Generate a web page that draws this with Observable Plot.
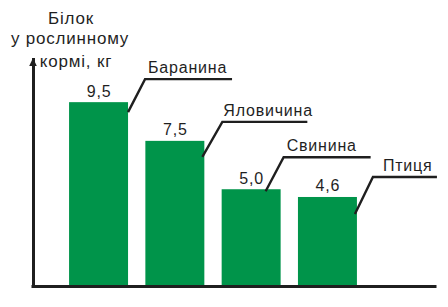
<!DOCTYPE html>
<html><head><meta charset="utf-8">
<script src="https://cdn.jsdelivr.net/npm/d3@7"></script>
<script src="https://cdn.jsdelivr.net/npm/@observablehq/plot@0.6"></script>
<style>
html,body{margin:0;padding:0;background:#fff;}
#chart svg text{letter-spacing:0.8px;}
</style></head><body><div id="chart"></div>
<script>
// ---- data ----
const categories = ["Баранина", "Яловичина", "Свинина", "Птиця"];
const values = [9.5, 7.5, 5.0, 4.6];
const valueLabels = ["9,5", "7,5", "5,0", "4,6"];
const titleLines = ["Білок", "у рослинному", "кормі, кг"];
const yMax = 11.73;

const rows = categories.map((c, i) => ({cat: c, value: values[i], label: valueLabels[i]}));

// ---- styling / layout ----
const ink = "#1f1f1f";
const green = "#00944a";
const font = '"Liberation Sans", Arial, sans-serif';
// leader offsets (px) relative to each bar's top-right corner
const leaderLayout = [
  {bx: 0, by: 10, ux: 17, uy: -33, len: 87, tx: 3},
  {bx: -2, by: 16, ux: 20, uy: -35, len: 85, tx: 1},
  {bx: -15, by: 2, ux: 18, uy: -34, len: 87, tx: 3},
  {bx: -2, by: 17, ux: 18, uy: -37, len: 64, tx: 10}
];
// title line offsets (px) from the top of the y axis
const titleLayout = [{dx: 37.5, dy: -48}, {dx: 36.5, dy: -27.5}, {dx: 42.5, dy: -5}];

function leaders(index, scales) {
  const {x, y} = scales;
  const bw = typeof x.bandwidth === "function" ? x.bandwidth() : x.bandwidth;
  const g = d3.create("svg:g").attr("text-anchor", "start");
  // y axis arrowhead at the top of the value range
  const xa = x.range ? Math.min(...x.range()) : 33;
  const ya = y(yMax);
  g.append("path")
    .attr("d", `M${xa},${ya - 1}L${xa + 3.8},${ya + 7}L${xa - 3.8},${ya + 7}Z`)
    .attr("fill", ink);
  rows.forEach((d, i) => {
    const L = leaderLayout[i];
    const xr = x(d.cat) + bw;
    const yt = y(d.value);
    const x0 = xr + L.bx, y0 = yt + L.by;
    const x1 = x0 + L.ux, y1 = y0 + L.uy;
    g.append("path")
      .attr("d", `M${x0},${y0}L${x1},${y1}H${x1 + L.len}`)
      .attr("fill", "none").attr("stroke", ink).attr("stroke-width", 2.4);
    g.append("text")
      .attr("x", x1 + L.tx).attr("y", y1 - 6)
      .attr("text-anchor", "start")
      .attr("fill", ink).attr("font-size", 16).attr("font-family", font)
      .text(d.cat);
  });
  return g.node();
}

const chart = Plot.plot({
  width: 448,
  height: 307,
  marginLeft: 33,
  marginRight: 13,
  marginTop: 59,
  marginBottom: 21,
  x: {domain: categories, paddingInner: 0.227, paddingOuter: 0.748, align: 0.316, round: false, axis: null},
  y: {domain: [0, yMax], axis: null},
  style: {fontFamily: font, background: "#fff", color: ink, overflow: "visible"},
  marks: [
    Plot.barY(rows, {x: "cat", y: "value", fill: green}),
    Plot.text(rows, {x: "cat", y: "value", text: "label", dy: -6, lineAnchor: "bottom", fontSize: 16, fill: ink}),
    Plot.frame({anchor: "left", stroke: ink, strokeWidth: 3}),
    Plot.ruleY([0], {stroke: ink, strokeWidth: 3, strokeLinecap: "square"}),
    ...titleLines.map((t, i) => Plot.text([t], {frameAnchor: "top-left", dx: titleLayout[i].dx, dy: titleLayout[i].dy, lineAnchor: "top", textAnchor: "middle", fontSize: 17, fill: ink})),
    leaders
  ]
});
document.getElementById("chart").appendChild(chart);
</script></body></html>
